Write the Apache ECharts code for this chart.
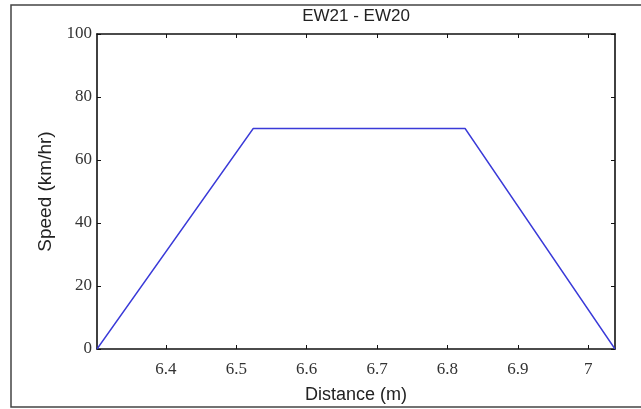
<!DOCTYPE html>
<html>
<head>
<meta charset="utf-8">
<script src="https://cdn.jsdelivr.net/npm/echarts@6/dist/echarts.min.js"></script>
<style>
  html, body { margin: 0; padding: 0; background: #fff; }
  #chart { width: 641px; height: 409px; }
</style>
</head>
<body>
<div id="chart"></div>
<script>
// speed profile between stations
const distance = [6.302, 6.524, 6.825, 7.038]
const speed = [0, 70, 70, 0]
const xTicks = [6.4, 6.5, 6.6, 6.7, 6.8, 6.9, 7]
const yTicks = [0, 20, 40, 60, 80, 100]

const chart = echarts.init(document.getElementById('chart'))

const serif = { fontFamily: 'Liberation Serif', fontSize: 17, color: '#333' }
const axisLine = { show: true, onZero: false, lineStyle: { color: '#111', width: 1.6 } }
const tick = { inside: true, length: 4, lineStyle: { color: '#111', width: 1 } }

chart.setOption({
  animation: false,
  title: {
    text: 'EW21 - EW20',
    left: 351,
    top: 3,
    textAlign: 'center',
    textStyle: { fontFamily: 'Liberation Sans', fontSize: 17, fontWeight: 'normal', color: '#222' }
  },
  graphic: [
    {
      type: 'rect',
      z: -1,
      shape: { x: 11, y: 5, width: 700, height: 402 },
      style: { fill: 'none', stroke: '#444', lineWidth: 1.5 }
    }
  ],
  grid: { left: 97, right: 26, top: 34, bottom: 56 },
  xAxis: [
    {
      type: 'value',
      min: distance[0],
      max: distance[distance.length - 1],
      name: 'Distance (m)',
      nameLocation: 'middle',
      nameGap: 37,
      nameTextStyle: { fontFamily: 'Liberation Sans', fontSize: 18, color: '#222' },
      axisLine: axisLine,
      axisTick: Object.assign({ customValues: xTicks }, tick),
      axisLabel: Object.assign({ customValues: xTicks, margin: 12 }, serif),
      splitLine: { show: false }
    },
    {
      type: 'value',
      position: 'top',
      min: distance[0],
      max: distance[distance.length - 1],
      axisLine: axisLine,
      axisTick: Object.assign({ customValues: xTicks }, tick),
      axisLabel: { show: false },
      splitLine: { show: false }
    }
  ],
  yAxis: [
    {
      type: 'value',
      min: 0,
      max: 100,
      interval: 20,
      name: 'Speed (km/hr)',
      nameLocation: 'middle',
      nameGap: 42,
      nameTextStyle: { fontFamily: 'Liberation Sans', fontSize: 19, color: '#222' },
      axisLine: axisLine,
      axisTick: Object.assign({ customValues: yTicks }, tick),
      axisLabel: Object.assign({ customValues: yTicks, margin: 5 }, serif),
      splitLine: { show: false }
    },
    {
      type: 'value',
      position: 'right',
      min: 0,
      max: 100,
      interval: 20,
      axisLine: axisLine,
      axisTick: Object.assign({ customValues: yTicks }, tick),
      axisLabel: { show: false },
      splitLine: { show: false }
    }
  ],
  series: [
    {
      type: 'line',
      data: distance.map((d, i) => [d, speed[i]]),
      showSymbol: false,
      lineStyle: { color: '#3a3ad8', width: 1.4 }
    }
  ]
})
</script>
</body>
</html>
